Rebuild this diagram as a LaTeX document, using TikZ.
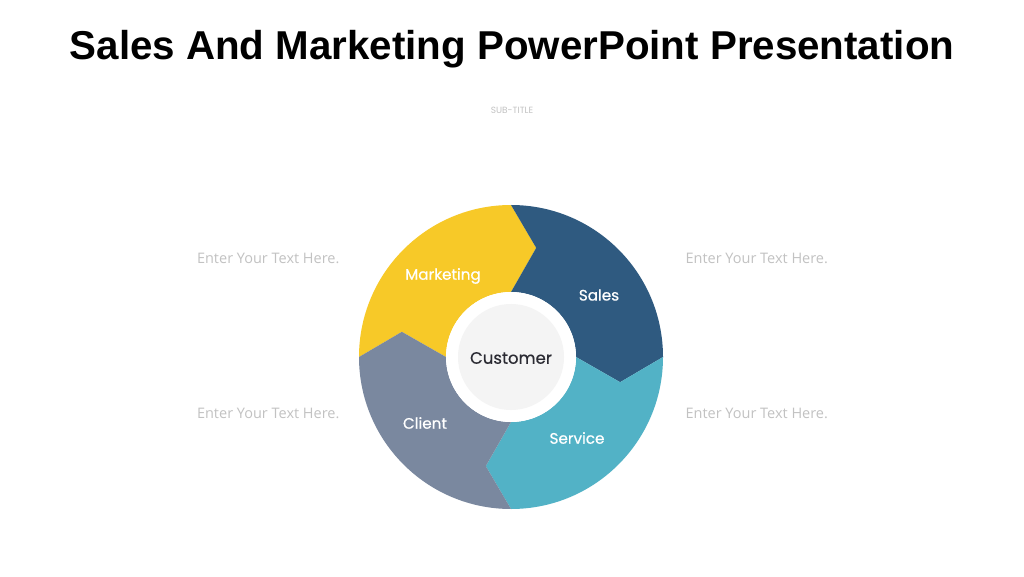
\documentclass[tikz,border=0pt]{standalone}
\usepackage{fontspec}
\setmainfont{Liberation Sans}
\newfontfamily\popfont{Poppins}
\newfontfamily\popmed{Poppins}[FakeBold=0.6]
\newfontfamily\openfont{Open Sans}
\definecolor{cyellow}{HTML}{F7C928}
\definecolor{cblue}{HTML}{2F5A80}
\definecolor{cteal}{HTML}{52B2C6}
\definecolor{cgray}{HTML}{7A889F}
\definecolor{ctext}{HTML}{C2C2C2}
\definecolor{ccenter}{HTML}{F4F4F4}
\definecolor{cdark}{HTML}{2B2B33}
\begin{document}
\begin{tikzpicture}[x=1pt,y=1pt,
  seglabel/.style={text=white,font=\popmed\fontsize{15.2}{18}\selectfont},
  bodytext/.style={text=ctext,font=\openfont\fontsize{14.5}{17}\selectfont}]
\useasboundingbox (0,0) rectangle (1024,576);
\fill[white] (0,0) rectangle (1024,576);
\node[font=\bfseries\fontsize{40.3}{44}\selectfont] (title) at (512,527) {Sales And Marketing PowerPoint Presentation};
\node[text=ctext,font=\popfont\fontsize{9}{10}\selectfont] (sub) at (512,466) {SUB-TITLE};
\begin{scope}[shift={(511,219)}]
\def\Ro{152}\def\Ri{65}\def\Rt{112}\def\dt{13}
\fill[cyellow] (90:\Ro) arc[start angle=90,end angle=180,radius=\Ro] -- (180-\dt:\Rt) -- (180:\Ri) arc[start angle=180,end angle=90,radius=\Ri] -- (90-\dt:\Rt) -- cycle;
\fill[cblue] (0:\Ro) arc[start angle=0,end angle=90,radius=\Ro] -- (90-\dt:\Rt) -- (90:\Ri) arc[start angle=90,end angle=0,radius=\Ri] -- (-\dt:\Rt) -- cycle;
\fill[cteal] (-90:\Ro) arc[start angle=-90,end angle=0,radius=\Ro] -- (-\dt:\Rt) -- (0:\Ri) arc[start angle=0,end angle=-90,radius=\Ri] -- (-90-\dt:\Rt) -- cycle;
\fill[cgray] (180:\Ro) arc[start angle=180,end angle=270,radius=\Ro] -- (270-\dt:\Rt) -- (270:\Ri) arc[start angle=270,end angle=180,radius=\Ri] -- (180-\dt:\Rt) -- cycle;
\fill[white] (0,0) circle[radius=\Ri];
\fill[ccenter] (0,0) circle[radius=53];
\end{scope}
\node[text=cdark,font=\popmed\fontsize{16.5}{19}\selectfont] (customer) at (511,218) {Customer};
\node[seglabel] (marketing) at (443,300) {Marketing};
\node[seglabel] (sales) at (599,281) {Sales};
\node[seglabel] (service) at (577,138) {Service};
\node[seglabel] (client) at (425,153) {Client};
\node[bodytext,anchor=east] (t1) at (343,318) {Enter Your Text Here.};
\node[bodytext,anchor=east] (t2) at (343,163) {Enter Your Text Here.};
\node[bodytext,anchor=west] (t3) at (682,318) {Enter Your Text Here.};
\node[bodytext,anchor=west] (t4) at (682,163) {Enter Your Text Here.};
\end{tikzpicture}
\end{document}
